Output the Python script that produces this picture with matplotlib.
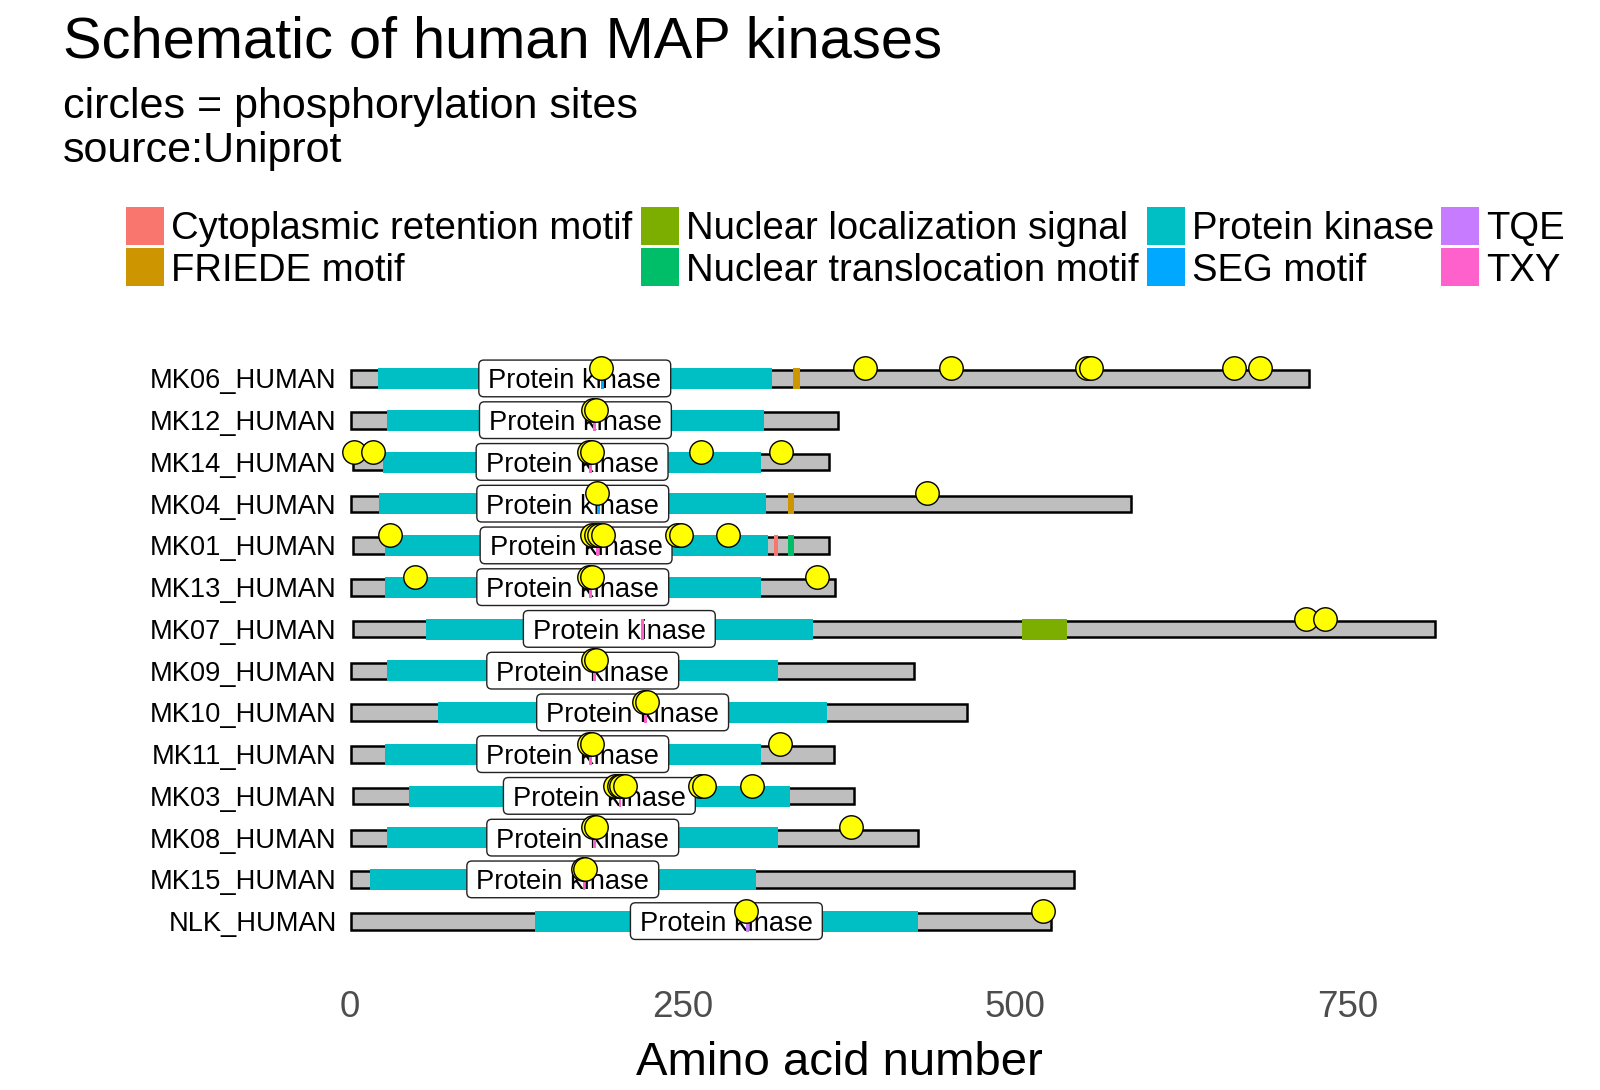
import matplotlib
matplotlib.use("Agg")
import matplotlib.pyplot as plt
from matplotlib.patches import Rectangle, FancyBboxPatch
from matplotlib.transforms import offset_copy

plt.rcParams['font.family'] = ['Liberation Sans', 'DejaVu Sans']

# proteins, top to bottom
names = ["MK06_HUMAN", "MK12_HUMAN", "MK14_HUMAN", "MK04_HUMAN", "MK01_HUMAN",
         "MK13_HUMAN", "MK07_HUMAN", "MK09_HUMAN", "MK10_HUMAN", "MK11_HUMAN",
         "MK03_HUMAN", "MK08_HUMAN", "MK15_HUMAN", "NLK_HUMAN"]
chain_begin = [1, 1, 2, 1, 2, 1, 2, 1, 1, 1, 2, 1, 1, 1]
chain_end = [721, 367, 360, 587, 360, 365, 816, 424, 464, 364, 379, 427, 544, 527]

# protein kinase domain
kinase_begin = [21, 28, 25, 22, 26, 26, 57, 28, 66, 26, 44, 28, 15, 139]
kinase_end = [317, 311, 309, 313, 314, 309, 348, 322, 359, 309, 331, 322, 305, 427]

# motifs
motif_protein = ["MK06_HUMAN", "MK06_HUMAN", "MK12_HUMAN", "MK14_HUMAN", "MK04_HUMAN",
                 "MK04_HUMAN", "MK01_HUMAN", "MK01_HUMAN", "MK01_HUMAN", "MK13_HUMAN",
                 "MK07_HUMAN", "MK07_HUMAN", "MK09_HUMAN", "MK10_HUMAN", "MK11_HUMAN",
                 "MK03_HUMAN", "MK08_HUMAN", "MK15_HUMAN", "NLK_HUMAN"]
motif_type = ["SEG motif", "FRIEDE motif", "TXY", "TXY", "SEG motif",
              "FRIEDE motif", "TXY", "Cytoplasmic retention motif", "Nuclear translocation motif", "TXY",
              "TXY", "Nuclear localization signal", "TXY", "TXY", "TXY",
              "TXY", "TXY", "TXY", "TQE"]
motif_begin = [189, 333, 183, 180, 186, 329, 185, 319, 329, 180,
               219, 505, 183, 221, 180, 202, 183, 175, 298]
motif_end = [191, 338, 185, 182, 188, 334, 187, 322, 334, 182,
             221, 539, 185, 223, 182, 204, 185, 177, 300]

# phosphorylation sites per protein
phospho_sites = [
    [189, 387, 452, 554, 557, 665, 684],
    [183, 185],
    [3, 17, 180, 182, 264, 324],
    [186, 434],
    [30, 182, 185, 187, 190, 246, 249, 284],
    [49, 180, 182, 351],
    [719, 733],
    [183, 185],
    [221, 223],
    [180, 182, 323],
    [199, 202, 204, 207, 263, 266, 302],
    [183, 185, 377],
    [175, 177],
    [298, 521],
]

feature_names = ["Cytoplasmic retention motif", "FRIEDE motif",
                 "Nuclear localization signal", "Nuclear translocation motif",
                 "Protein kinase", "SEG motif", "TQE", "TXY"]
feature_colors = ["#F8766D", "#CD9600", "#7CAE00", "#00BE67",
                  "#00BFC4", "#00A9FF", "#C77CFF", "#FF61CC"]
col = dict(zip(feature_names, feature_colors))

W, H = 1600, 1090
fig = plt.figure(figsize=(16, 10.9), dpi=100)
ax = fig.add_axes([62.7 / W, (H - 975) / H, (1600.2 - 62.7) / W, (975 - 320) / H])
ax.set_xlim(-216, 940)
ax.set_ylim(-0.285, 15.405)

n = len(names)
order = {nm: n - i for i, nm in enumerate(names)}

lab_fs = 19.6
cap = 0.716 * lab_fs
tr_lab = offset_copy(ax.transData, fig=fig, y=-cap / 2, units='points')

kin_texts = []
for i, nm in enumerate(names):
    o = order[nm]
    ax.add_patch(Rectangle((chain_begin[i], o - 0.2), chain_end[i] - chain_begin[i], 0.4,
                           fc='#BEBEBE', ec='black', lw=1.8, zorder=1))
    ax.add_patch(Rectangle((kinase_begin[i], o - 0.25), kinase_end[i] - kinase_begin[i], 0.5,
                           fc=col["Protein kinase"], ec='none', zorder=2))
    ax.text(-10, o, nm, ha='right', va='baseline', fontsize=lab_fs,
            transform=tr_lab, clip_on=False)
    t = ax.text((kinase_begin[i] + kinase_end[i]) / 2, o, "Protein kinase",
                ha='center', va='baseline', fontsize=lab_fs, transform=tr_lab, zorder=4)
    kin_texts.append((t, o))

# label boxes sized from the rendered text
renderer = fig.canvas.get_renderer()
sx = ax.transData.transform((1, 0))[0] - ax.transData.transform((0, 0))[0]
sy = ax.transData.transform((0, 1))[1] - ax.transData.transform((0, 0))[1]
for t, o in kin_texts:
    bb = t.get_window_extent(renderer)
    xc = t.get_position()[0]
    half = (bb.width / 2 + 9.5) / sx
    ax.add_patch(FancyBboxPatch((xc - half, o - 0.434), 2 * half, 0.879,
                                boxstyle="round,pad=0,rounding_size=%f" % (5 / sx),
                                mutation_aspect=sx / sy,
                                fc='white', ec='#222222', lw=1.0, zorder=3))

for p, ty, b, e in zip(motif_protein, motif_type, motif_begin, motif_end):
    o = order[p]
    ax.add_patch(Rectangle((b, o - 0.25), e - b, 0.5, fc=col[ty], ec='none', zorder=5))

for i, nm in enumerate(names):
    o = order[nm]
    ax.scatter(phospho_sites[i], [o + 0.25] * len(phospho_sites[i]), s=285,
               c='yellow', edgecolors='black', linewidths=1.0, zorder=6, clip_on=False)

ax.set_xticks([0, 250, 500, 750])
ax.set_yticks([])
ax.tick_params(axis='x', length=0, pad=10.6, labelsize=26.5, labelcolor='#4D4D4D')
for s in ax.spines.values():
    s.set_visible(False)
ax.set_xlabel("Amino acid number", fontsize=34)
ax.xaxis.label.set_va('baseline')
ax.xaxis.set_label_coords((839.5 - 62.7) / 1537.5, -(1075 - 975) / 655)

# title and subtitle
fig.text(62.7 / W, 1 - 57 / H, "Schematic of human MAP kinases", fontsize=41.6, va='baseline')
fig.text(62.7 / W, 1 - 118.3 / H, "circles = phosphorylation sites", fontsize=31, va='baseline')
fig.text(62.7 / W, 1 - 162.3 / H, "source:Uniprot", fontsize=31, va='baseline')

# legend, 4 columns x 2 rows
key_x = [125.6, 641, 1146.6, 1441]
key_top = [206.7, 247.7]
text_base = [239.3, 281]
ks = 38.3
for k, (nm, c) in enumerate(zip(feature_names, feature_colors)):
    cx, r = key_x[k // 2], k % 2
    fig.add_artist(Rectangle((cx / W, 1 - (key_top[r] + ks) / H), ks / W, ks / H,
                             transform=fig.transFigure, fc=c, ec='none'))
    fig.text((cx + 45) / W, 1 - text_base[r] / H, nm, fontsize=27.5, va='baseline')

fig.savefig("out.png", dpi=100)
